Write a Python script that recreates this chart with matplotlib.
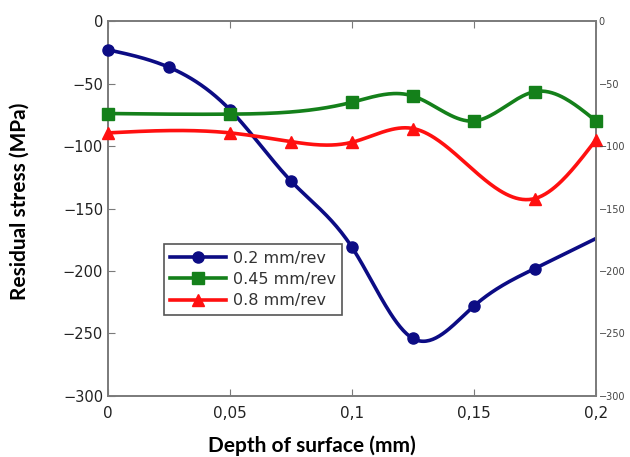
import numpy as np
import matplotlib.pyplot as plt
from matplotlib.lines import Line2D
from matplotlib.ticker import FuncFormatter

# depth (mm) and residual stress (MPa) for each feed rate
depth_02 = [0, 0.025, 0.05, 0.075, 0.1, 0.125, 0.15, 0.175, 0.2]
stress_02 = [-23, -37, -71, -128, -181, -254, -228, -198, -174]

depth_045 = [0, 0.05, 0.1, 0.125, 0.15, 0.175, 0.2]
stress_045 = [-74, -74.5, -65, -60, -80, -56.5, -80]

depth_08 = [0, 0.05, 0.075, 0.1, 0.125, 0.175, 0.2]
stress_08 = [-89.5, -89.5, -96.5, -97, -86, -142, -95]

labels = ['0.2 mm/rev', '0.45 mm/rev', '0.8 mm/rev']
colors = ['#0c0c84', '#14801a', '#ff1010']
markers = ['o', 's', '^']


def smooth(x, y, n=300):
	# natural cubic spline through the measured points
	x = np.asarray(x, float); y = np.asarray(y, float)
	h = np.diff(x); m = len(x)
	A = np.zeros((m, m)); b = np.zeros(m)
	A[0, 0] = A[-1, -1] = 1
	for i in range(1, m - 1):
		A[i, i - 1] = h[i - 1]; A[i, i] = 2 * (h[i - 1] + h[i]); A[i, i + 1] = h[i]
		b[i] = 6 * ((y[i + 1] - y[i]) / h[i] - (y[i] - y[i - 1]) / h[i - 1])
	M = np.linalg.solve(A, b)
	xs = np.linspace(x[0], x[-1], n)
	k = np.clip(np.searchsorted(x, xs) - 1, 0, m - 2)
	t0 = x[k + 1] - xs; t1 = xs - x[k]
	ys = (M[k] * t0**3 + M[k + 1] * t1**3) / (6 * h[k]) \
		+ (y[k] / h[k] - M[k] * h[k] / 6) * t0 + (y[k + 1] / h[k] - M[k + 1] * h[k] / 6) * t1
	return xs, ys


fig = plt.figure(figsize=(6.3, 4.57), dpi=100)
ax = fig.add_axes([0.1714, 0.1335, 0.7746, 0.8205])

series = [(depth_02, stress_02, 8), (depth_045, stress_045, None), (depth_08, stress_08, None)]
for (x, y, last), c, mk in zip(series, colors, markers):
	xs, ys = smooth(x, y)
	ax.plot(xs, ys, color=c, lw=2.6, zorder=2)
	ax.plot(x[:last], y[:last], ls='', marker=mk, ms=8, color=c, zorder=3, clip_on=False)

#===Axes===#
ax.set_xlim(0, 0.2)
ax.set_ylim(-300, 0)
ax.set_xticks([0, 0.05, 0.1, 0.15, 0.2])
ax.xaxis.set_major_formatter(FuncFormatter(lambda v, p: ('%g' % round(v, 3)).replace('.', ',')))
ax.set_yticks(np.arange(-300, 1, 50))
ax.yaxis.set_major_formatter(FuncFormatter(lambda v, p: ('%d' % v).replace('-', '\u2212')))
for s in ax.spines.values():
	s.set_color('#7a7a7a'); s.set_linewidth(1.4)
ax.tick_params(direction='in', length=5, color='#7a7a7a', labelsize=10.5, labelcolor='#222222',
	top=True, right=True)
ax.tick_params(axis='x', pad=7, labelsize=11)

ax2 = ax.twinx()
ax2.set_ylim(-300, 0)
ax2.set_yticks(np.arange(-300, 1, 50))
ax2.yaxis.set_major_formatter(FuncFormatter(lambda v, p: ('%d' % v).replace('-', '\u2212')))
ax2.tick_params(direction='in', length=0, labelsize=7, labelcolor='#444444', pad=2)
for s in ax2.spines.values():
	s.set_visible(False)

ax.set_xlabel('Depth of surface (mm)', family='Lato', fontweight='bold', fontsize=15)
ax.xaxis.set_label_coords(0.418, -0.105)
ax.set_ylabel('Residual stress (MPa)', family='Lato', fontweight='bold', fontsize=15)
ax.yaxis.set_label_coords(-0.16, 0.52)

#===Legend===#
handles = [Line2D([], [], color=c, lw=2.6, marker=mk, ms=8) for c, mk in zip(colors, markers)]
leg = ax.legend(handles, labels, loc='upper left', bbox_to_anchor=(0.115, 0.405), fontsize=11.5,
	fancybox=False, framealpha=1, edgecolor='#555555', handlelength=3.5, borderpad=0.4,
	labelspacing=0.4, handletextpad=0.4, borderaxespad=0)
leg.get_frame().set_linewidth(1.2)
for t in leg.get_texts():
	t.set_color('#333333')

fig.savefig('out.png', dpi=100)
